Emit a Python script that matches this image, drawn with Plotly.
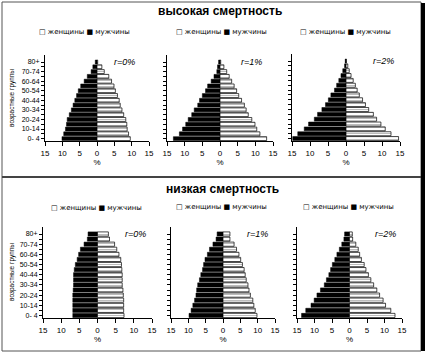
import plotly.graph_objects as go

# ---------------- data ----------------
age_groups = ["0-4", "5-9", "10-14", "15-19", "20-24", "25-29", "30-34", "35-39",
              "40-44", "45-49", "50-54", "55-59", "60-64", "65-69", "70-74", "75-79", "80+"]
age_tick_text = ["0- 4", "", "10-14", "", "20-24", "", "30-34", "", "40-44", "",
                 "50-54", "", "60-64", "", "70-74", "", "80+"]
x_tick_vals = [-15, -10, -5, 0, 5, 10, 15]
x_tick_text = ["15", "10", "5", "0", "5", "10", "15"]

# high mortality (bottom age group first)
high_r0_men   = [10.1, 9.6, 9.1, 8.8, 8.6, 8.0, 7.4, 6.9, 6.4, 5.9, 5.4, 4.7, 3.7, 2.8, 1.7, 1.2, 0.5]
high_r0_women = [9.6, 9.1, 8.7, 8.6, 8.3, 7.7, 7.2, 6.7, 6.4, 5.9, 5.3, 4.9, 4.2, 3.4, 2.1, 1.4, 0.2]
high_r1_men   = [13.2, 11.5, 10.6, 9.7, 9.0, 8.0, 7.3, 6.3, 5.8, 5.0, 4.1, 3.5, 2.5, 1.7, 0.9, 0.7, 0.4]
high_r1_women = [13.2, 11.3, 10.4, 9.9, 9.0, 8.0, 7.4, 6.9, 6.1, 5.3, 4.7, 4.0, 3.3, 2.6, 1.9, 1.1, 0.2]
high_r2_men   = [14.8, 13.4, 11.6, 10.4, 8.8, 7.9, 6.7, 5.7, 4.9, 4.2, 3.2, 2.6, 2.0, 1.4, 0.9, 0.4, 0.2]
high_r2_women = [14.6, 12.5, 10.9, 9.7, 8.5, 7.6, 6.3, 5.4, 4.6, 3.7, 3.1, 2.6, 2.0, 1.4, 0.9, 0.5, 0.1]

# low mortality
low_r0_men   = [6.8, 6.8, 6.8, 6.8, 6.8, 6.7, 6.6, 6.6, 6.6, 6.4, 6.1, 5.6, 5.2, 4.7, 3.7, 2.8, 2.6]
low_r0_women = [7.3, 7.2, 7.2, 7.2, 7.1, 7.0, 6.8, 6.8, 6.8, 6.7, 6.6, 6.4, 5.9, 5.3, 4.7, 3.3, 3.0]
low_r1_men   = [9.8, 9.2, 8.7, 8.2, 7.8, 7.6, 7.3, 6.8, 6.4, 5.9, 5.6, 5.2, 4.5, 3.9, 2.9, 2.0, 1.7]
low_r1_women = [9.8, 9.3, 8.9, 8.6, 7.9, 7.5, 7.2, 6.7, 6.4, 6.1, 5.6, 5.1, 4.6, 3.9, 3.2, 2.0, 2.0]
low_r2_men   = [13.7, 12.5, 11.0, 10.1, 9.3, 8.3, 7.2, 6.6, 5.9, 5.4, 4.9, 4.2, 3.6, 2.9, 2.2, 1.6, 1.4]
low_r2_women = [13.0, 11.8, 10.3, 9.6, 8.6, 7.8, 6.9, 6.1, 5.4, 4.7, 4.2, 3.4, 2.9, 2.5, 1.8, 0.9, 0.8]

panel_titles = ["высокая смертность", "низкая смертность"]
growth_labels = ["r=0%", "r=1%", "r=2%"]
legend_text = "□ женщины ■ мужчины"
y_title = "возрастные группы"
x_title = "%"

panels = [
    (high_r0_men, high_r0_women), (high_r1_men, high_r1_women), (high_r2_men, high_r2_women),
    (low_r0_men, low_r0_women), (low_r1_men, low_r1_women), (low_r2_men, low_r2_women),
]

# ---------------- layout geometry (pixels) ----------------
W, H = 425, 355
plot_px = [  # x0, x1, y0(top), y1(bottom)
    (45, 149, 55, 141), (167, 273, 55, 141), (292, 400, 54, 141),
    (43, 152, 227, 318), (171, 275, 227, 318), (297, 402, 227, 318),
]
legend_px = [(84, 32), (221, 32), (345, 32), (96, 208), (221, 207), (348, 207)]
rlabel_x = [8.0, 9.0, 10.3, 10.5, 10.0, 10.3]
ytitle_px = [(12, 98), (12, 272)]
title_px = [(220, 11), (222, 189)]

FONT = "Liberation Sans, Arial, sans-serif"
fig = go.Figure()
layout = dict(
    width=W, height=H, margin=dict(l=0, r=0, t=0, b=0, autoexpand=False),
    paper_bgcolor="white", plot_bgcolor="white",
    barmode="relative", bargap=0.18, showlegend=False,
    font=dict(family=FONT, color="black", size=8),
)
annotations = []

for i, (men, women) in enumerate(panels):
    k = "" if i == 0 else str(i + 1)
    xa, ya = "x" + k, "y" + k
    fig.add_trace(go.Bar(
        y=age_groups, x=[-v for v in men], orientation="h", name="мужчины",
        marker=dict(color="black", line=dict(color="black", width=0.5)),
        xaxis=xa, yaxis=ya))
    fig.add_trace(go.Bar(
        y=age_groups, x=women, orientation="h", name="женщины",
        marker=dict(color="white", line=dict(color="black", width=0.7),
                    pattern=dict(shape="-", fgcolor="#7a7a7a", size=3, solidity=0.35)),
        xaxis=xa, yaxis=ya))
    x0, x1, yt, yb = plot_px[i]
    left = (i % 3 == 0)
    layout["xaxis" + k] = dict(
        domain=[x0 / W, x1 / W], anchor=ya, range=[-15, 15], automargin=False,
        tickvals=x_tick_vals, ticktext=x_tick_text, ticks="outside", ticklen=4,
        tickcolor="black", showline=True, linecolor="black", linewidth=1,
        showgrid=False, zeroline=False, tickfont=dict(size=8, family=FONT, color="black"),
        title=dict(text=x_title, font=dict(size=8, family=FONT, color="black"), standoff=2),
        fixedrange=True)
    layout["yaxis" + k] = dict(
        domain=[1 - yb / H, 1 - yt / H], anchor=xa, type="category", automargin=False,
        categoryorder="array", categoryarray=age_groups,
        tickvals=age_groups, ticktext=age_tick_text if left else [""] * len(age_groups),
        showticklabels=left, ticks="outside", ticklen=3, tickcolor="black",
        showline=True, linecolor="black", linewidth=1, showgrid=False,
        tickfont=dict(size=7, family=FONT, color="black"), fixedrange=True)
    # growth rate label
    annotations.append(dict(
        x=rlabel_x[i], y=age_groups[-1], xref=xa, yref=ya, xanchor="center", yanchor="middle",
        text="<i>" + growth_labels[i % 3] + "</i>",
        showarrow=False, font=dict(size=9, family=FONT, color="black")))
    lx, ly = legend_px[i]
    annotations.append(dict(
        x=lx / W, y=1 - ly / H, xref="paper", yref="paper", xanchor="center", yanchor="middle",
        text=legend_text, showarrow=False,
        font=dict(size=7, family="DejaVu Sans, sans-serif", color="black")))

for tx, ty in ytitle_px:
    annotations.append(dict(x=tx / W, y=1 - ty / H, xref="paper", yref="paper",
                            xanchor="center", yanchor="middle", textangle=-90,
                            text=y_title, showarrow=False,
                            font=dict(size=6.5, family=FONT, color="black")))

for t, (tx, ty) in zip(panel_titles, title_px):
    annotations.append(dict(x=tx / W, y=1 - ty / H, xref="paper", yref="paper",
                            xanchor="center", yanchor="middle",
                            text="<b>" + t + "</b>", showarrow=False,
                            font=dict(size=12, family=FONT, color="black")))
layout["annotations"] = annotations

layout["shapes"] = [
    dict(type="rect", xref="paper", yref="paper", x0=2 / W, x1=421 / W,
         y0=1 - 351 / H, y1=1 - 2 / H, line=dict(color="#555", width=1)),
    dict(type="line", xref="paper", yref="paper", x0=2 / W, x1=421 / W,
         y0=1 - 177 / H, y1=1 - 177 / H, line=dict(color="#444", width=2)),
    dict(type="rect", xref="paper", yref="paper", x0=421 / W, x1=425 / W,
         y0=1 - 351 / H, y1=1 - 3 / H, line=dict(width=0), fillcolor="black"),
]

fig.update_layout(**layout)
fig.write_html("out.html", config={"displayModeBar": False},
               post_script="document.body.style.margin='0';document.body.style.overflow='hidden';")
